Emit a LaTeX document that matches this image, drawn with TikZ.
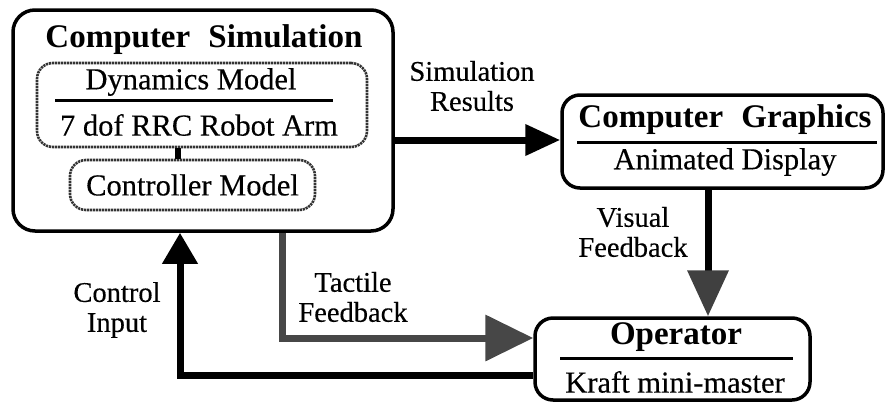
\documentclass[tikz,border=0pt]{standalone}
\usepackage{fontspec}
\setmainfont{Liberation Serif}
\newfontfamily\boxfont[FakeBold=0.35]{Liberation Serif}
\usepackage{tikz}
\usetikzlibrary{arrows.meta}
\tikzstyle{outerbox} = [draw=black, line width=3.5pt, rectangle, rounded corners=22pt, inner sep=0pt]
\tikzstyle{innerbox} = [draw=black!80, line width=2.6pt, dash pattern=on 2.2pt off 0.8pt,
    rectangle, rounded corners=16pt, inner sep=0pt]
\tikzstyle{boxtitle} = [font=\fontsize{33}{36}\selectfont\bfseries, inner sep=0pt]
\tikzstyle{boxtext} = [font=\fontsize{30.5}{32}\selectfont\boxfont, inner sep=0pt]
\tikzstyle{flowlabel} = [font=\fontsize{28.5}{30}\selectfont\boxfont, align=center, inner sep=0pt]
\tikzstyle{divider} = [line width=3pt]
\tikzstyle{flow} = [line width=7pt]

\begin{document}
\begin{tikzpicture}[x=1pt, y=-1pt]
    \useasboundingbox (0,0) rectangle (885,402);
    \node [outerbox, minimum width=380pt, minimum height=221pt] (sim) at (203,120.5) {};
    \node [boxtitle] (simtitle) at (204,40) {Computer\hspace{0.55em}Simulation};
    \node [innerbox, minimum width=330pt, minimum height=84pt] (dyn) at (202,105) {};
    \node [boxtext] (dyntext) at (191,82) {Dynamics Model};
    \node [boxtext] (armtext) at (199,125) {7 dof RRC Robot Arm};
    \draw [divider] (55,100) -- (333,100);
    \node [innerbox, minimum width=245pt, minimum height=50pt] (ctrl) at (192.5,185) {};
    \node [boxtext] (ctrltext) at (192.5,185) {Controller Model};
    \draw [flow, line width=6pt] ([xshift=-15pt]ctrl.north) -- ([xshift=-15pt]ctrl.north |- dyn.south);

    \node [outerbox, minimum width=321pt, minimum height=93pt, rounded corners=18pt] (gfx) at (722.5,141.5) {};
    \node [boxtitle] (gfxtitle) at (725,120) {Computer\hspace{0.55em}Graphics};
    \draw [divider] (577,142) -- (877,142);
    \node [boxtext] (gfxtext) at (725,162) {Animated Display};

    \node [outerbox, minimum width=275pt, minimum height=82pt, rounded corners=18pt] (op) at (672.5,359) {};
    \node [boxtitle] (optitle) at (676,337) {Operator};
    \draw [divider] (560,358) -- (793,358);
    \node [boxtext] (optext) at (675,382) {Kraft mini-master};

    \draw [flow, -{Triangle[length=35pt,width=30pt]}] (sim.east |- 0,140) -- (gfx.west |- 0,140);
    \node [flowlabel] (simres) at (472,86) {Simulation\\Results};

    \draw [flow, -{Triangle[length=46pt,width=40pt,color=black!75]}] (gfx.south -| 708,0) -- (op.north -| 708,0);
    \node [flowlabel] (visual) at (633,232) {Visual\\Feedback};

    \coordinate (tbend) at (282,338);
    \draw [flow, black!72, -{Triangle[length=48pt,width=45pt]}] (sim.south -| tbend) -- (tbend) -- (op.west |- tbend);
    \node [flowlabel] (tactile) at (353,297) {Tactile\\Feedback};

    \coordinate (cbend) at (180,375);
    \draw [flow, -{Triangle[length=31pt,width=34pt]}] (op.west |- cbend) -- (cbend) -- (sim.south -| cbend);
    \node [flowlabel] (control) at (117,310) {Control\\Input};
\end{tikzpicture}
\end{document}
